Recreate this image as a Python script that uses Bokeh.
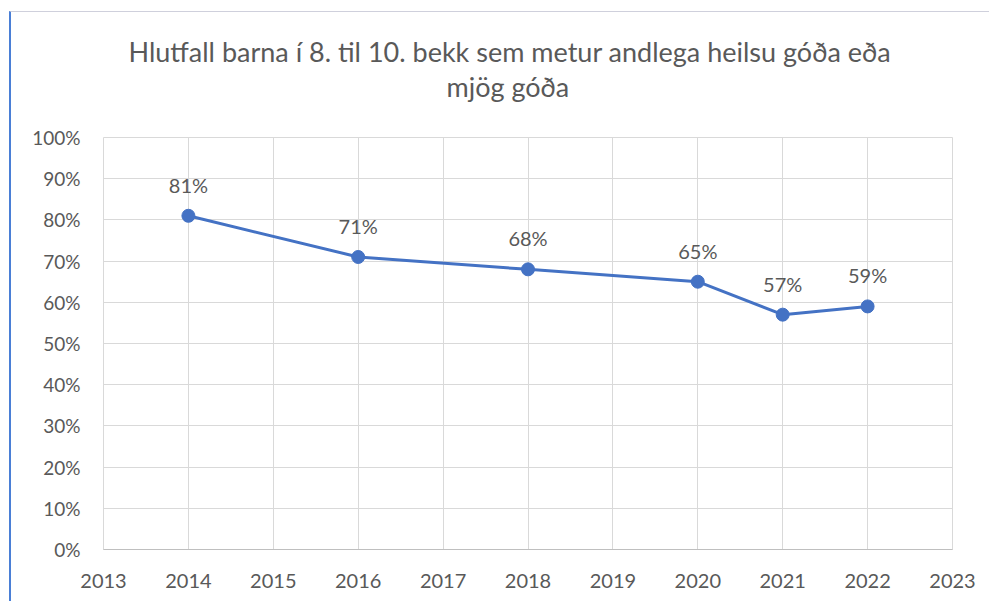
from bokeh.plotting import figure
from bokeh.models import (ColumnDataSource, FixedTicker, PrintfTickFormatter, Title,
                          SingleIntervalTicker)
from bokeh.core.properties import value
from bokeh.embed import file_html
from bokeh.resources import INLINE

# ---- data ----
years = [2014, 2016, 2018, 2020, 2021, 2022]
percent = [81, 71, 68, 65, 57, 59]
labels = ["81%", "71%", "68%", "65%", "57%", "59%"]
x_ticks = [2013, 2014, 2015, 2016, 2017, 2018, 2019, 2020, 2021, 2022, 2023]
title_line1 = "Hlutfall barna í 8. til 10. bekk sem metur andlega heilsu góða eða"
title_line2 = "mjög góða"

FONT = "Lato"
TXT = "#595959"
BLUE = "#4472C4"
GRID = "#d9d9d9"

src = ColumnDataSource(dict(x=years, y=percent, lab=labels))

p = figure(width=980, height=590, output_backend="svg", toolbar_location=None,
           x_range=(2013, 2023), y_range=(0, 100),
           min_border_left=92, min_border_right=39, min_border_top=125,
           min_border_bottom=53)
p.title.visible = False
p.outline_line_color = GRID
p.background_fill_color = "white"
p.border_fill_color = "white"

spacer = Title(text=" ", align="left", standoff=32, text_font=FONT,
               text_font_size="1px", text_color="white")
t2 = Title(text=title_line2, align="left", offset=343, standoff=0, text_font=FONT,
           text_font_size="27px", text_font_style="normal", text_color=TXT)
t1 = Title(text=title_line1, align="left", offset=25, standoff=0, text_font=FONT,
           text_font_size="27px", text_font_style="normal", text_color=TXT)
p.add_layout(spacer, "above")
p.add_layout(t2, "above")
p.add_layout(t1, "above")

p.xaxis.ticker = FixedTicker(ticks=x_ticks)
p.yaxis.ticker = SingleIntervalTicker(interval=10)
p.yaxis.formatter = PrintfTickFormatter(format="%d%%")
p.xaxis.formatter = PrintfTickFormatter(format="%d")

for ax in (p.xaxis, p.yaxis):
    ax.major_tick_line_color = None
    ax.minor_tick_line_color = None
    ax.major_label_text_font = FONT
    ax.major_label_text_color = TXT
p.xaxis.major_label_text_font_size = "20px"
p.yaxis.major_label_text_font_size = "19px"
p.xaxis.axis_line_color = "#bfbfbf"
p.yaxis.axis_line_color = None
p.xaxis.major_label_standoff = 18
p.yaxis.major_label_standoff = 17

p.xgrid.ticker = FixedTicker(ticks=x_ticks)
p.xgrid.grid_line_color = GRID
p.ygrid.grid_line_color = GRID

p.line("x", "y", source=src, line_color=BLUE, line_width=3)
p.scatter("x", "y", source=src, size=13, fill_color=BLUE, line_color=BLUE)
p.text("x", "y", text="lab", source=src, text_font=value(FONT), text_font_size="20px",
       text_color=TXT, text_align="center", text_baseline="alphabetic", y_offset=-31)

p.styles = {"margin-left": "9px", "margin-top": "11px",
            "border-left": "2px solid #4a7fd6", "border-top": "1px solid #cfd0dc"}

open("out.html", "w").write(file_html(p, INLINE))
